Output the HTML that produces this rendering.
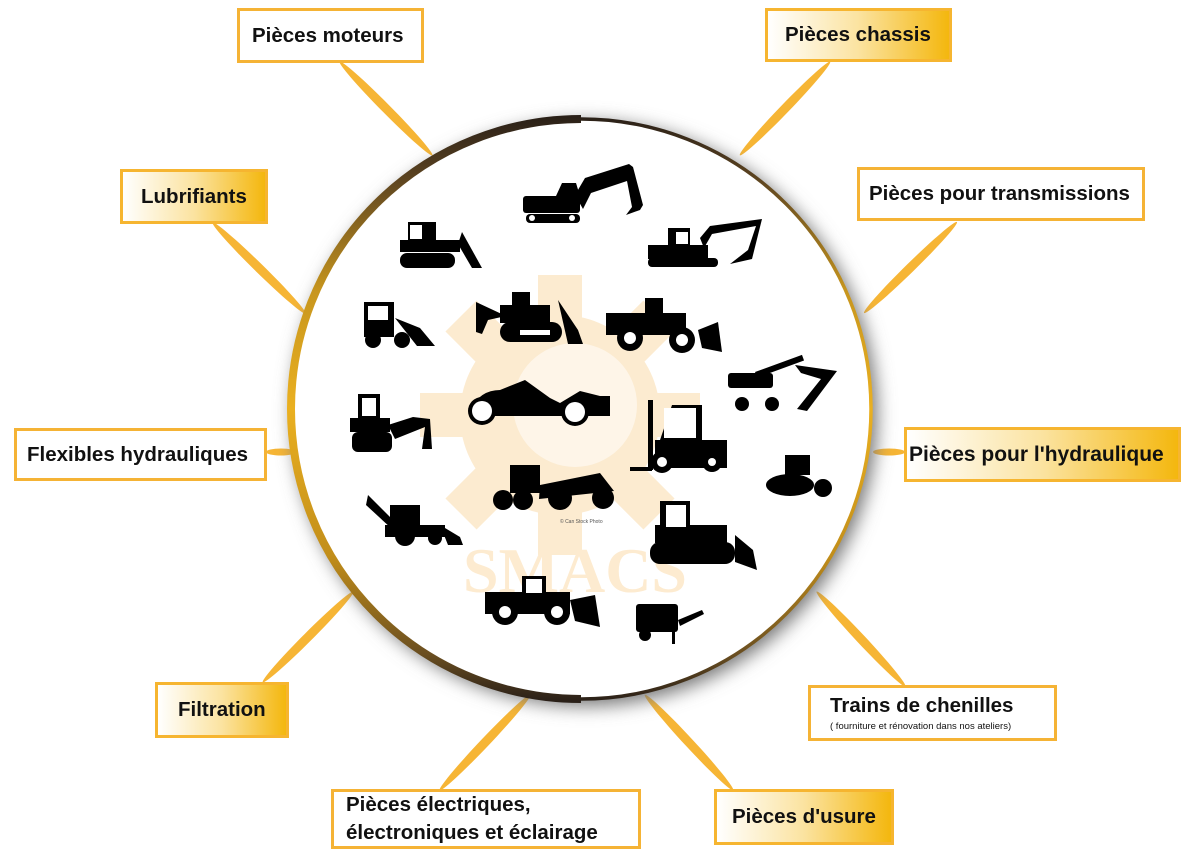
<!DOCTYPE html>
<html><head><meta charset="utf-8"><style>
html,body{margin:0;padding:0;background:#fff;width:1200px;height:858px;overflow:hidden}
.b{position:absolute;box-sizing:border-box;border:3px solid #f5b335;font-family:"Liberation Sans",sans-serif;font-weight:bold;color:#111;font-size:20.5px;display:flex;align-items:center;white-space:nowrap;background:#fff}
.g{background:linear-gradient(90deg,#fff 0%,#fbe3a0 50%,#f4b70e 100%);border-color:#f6b530}
</style></head><body>
<svg width="1200" height="858" style="position:absolute;left:0;top:0">
<defs>
<linearGradient id="rg2" gradientUnits="userSpaceOnUse" x1="0" y1="117" x2="0" y2="701">
<stop offset="0" stop-color="#2a2018"/><stop offset="0.1" stop-color="#5a4220"/><stop offset="0.3" stop-color="#c8961e"/><stop offset="0.5" stop-color="#eab020"/><stop offset="0.75" stop-color="#c28e1a"/><stop offset="0.92" stop-color="#6a4e20"/><stop offset="1" stop-color="#2a2018"/></linearGradient>
<filter id="sh" x="-20%" y="-20%" width="140%" height="140%"><feGaussianBlur stdDeviation="9"/></filter>
</defs>
<g fill="#f6b535">
<ellipse cx="386" cy="108.5" rx="66" ry="4.5" transform="rotate(45.3 386 108.5)"/>
<ellipse cx="785" cy="108.5" rx="65" ry="4.5" transform="rotate(134 785 108.5)"/>
<ellipse cx="259" cy="268" rx="65" ry="4.5" transform="rotate(44.4 259 268)"/>
<ellipse cx="910.5" cy="267.5" rx="65" ry="4.5" transform="rotate(135.6 910.5 267.5)"/>
<ellipse cx="281" cy="452" rx="15" ry="3.5"/>
<ellipse cx="889" cy="452" rx="16" ry="3.5"/>
<ellipse cx="308" cy="637" rx="64" ry="4.5" transform="rotate(-45 308 637)"/>
<ellipse cx="861" cy="639" rx="65" ry="4.5" transform="rotate(46.9 861 639)"/>
<ellipse cx="485" cy="742.5" rx="66" ry="4.5" transform="rotate(-46.5 485 742.5)"/>
<ellipse cx="689" cy="742.5" rx="65" ry="4.5" transform="rotate(47.2 689 742.5)"/>
</g>
<circle cx="585" cy="414" r="292" fill="#777" filter="url(#sh)"/>
<circle cx="581" cy="409" r="290" fill="#fff"/>
<path d="M581 119 A290 290 0 0 0 581 699" fill="none" stroke="url(#rg2)" stroke-width="8"/>
<path d="M581 119 A290 290 0 0 1 581 699" fill="none" stroke="url(#rg2)" stroke-width="3.5"/>
<!-- gear -->
<g fill="#fcebd0">
<circle cx="560" cy="415" r="100"/>
<g transform="translate(560 415)">
<rect x="-22" y="-140" width="44" height="280"/><rect x="-22" y="-140" width="44" height="280" transform="rotate(45)"/>
<rect x="-22" y="-140" width="44" height="280" transform="rotate(90)"/><rect x="-22" y="-140" width="44" height="280" transform="rotate(135)"/>
</g>
</g>
<circle cx="575" cy="405" r="62" fill="#fff" opacity="0.5"/>
<text x="575" y="592" text-anchor="middle" font-family="Liberation Serif,serif" font-weight="bold" font-size="64" fill="#fdebd0">SMACS</text>
<g fill="#000">
<rect x="523" y="196" width="57" height="17" rx="3"/><path d="M556 196 l6-13 h14 l4 13z"/><rect x="526" y="214" width="54" height="9" rx="4"/>
<path d="M575 195 l10-17 44-14 4 3 10 38-3 5-14 5 6-8-5-26-36 12-8 16z"/>
<rect x="408" y="222" width="28" height="22"/><rect x="400" y="240" width="60" height="12"/><rect x="400" y="253" width="55" height="15" rx="7"/><path d="M462 232 l20 36 h-10 l-14-24z"/>
<rect x="648" y="245" width="60" height="14"/><rect x="668" y="228" width="22" height="17"/><rect x="648" y="258" width="70" height="9" rx="4"/><path d="M700 238 l10-12 52-7 -10 40 -22 5 18-14 8-24 -44 8-8 14z"/>
<rect x="364" y="302" width="30" height="35"/><circle cx="373" cy="340" r="8"/><circle cx="402" cy="340" r="8"/><path d="M395 318 l25 10 15 18 h-18z"/>
<rect x="512" y="292" width="18" height="15"/><rect x="500" y="305" width="50" height="18"/><rect x="500" y="322" width="62" height="20" rx="10"/><path d="M558 300 l20 30 5 14 h-15z M476 302 l30 14 -18 4 -6 14 -6-2z"/>
<rect x="606" y="313" width="80" height="22"/><rect x="645" y="298" width="18" height="18"/><circle cx="630" cy="338" r="13"/><circle cx="682" cy="340" r="13"/><path d="M698 330 l20-8 4 30 -20-4z"/>
<rect x="728" y="373" width="45" height="15" rx="3"/><rect x="755" y="372" width="50" height="6" transform="rotate(-20 755 372)"/><path d="M795 365 l42 6 -30 40 -10-2 24-30 -20-6z"/><circle cx="742" cy="404" r="7"/><circle cx="772" cy="404" r="7"/>
<rect x="358" y="394" width="22" height="30"/><rect x="350" y="418" width="40" height="14"/><rect x="352" y="432" width="40" height="20" rx="6"/><path d="M388 425 l25-8 17 2 2 30 -10 0 3-22 -30 12z"/>
<path d="M470 410 q10-20 30-20 l25-10 25 18 10 5 20-12 20 5 10 0 v20 h-140z"/>
<circle cx="482" cy="411" r="14"/><circle cx="575" cy="412" r="14"/>
<rect x="648" y="400" width="5" height="70"/><rect x="630" y="467" width="22" height="4"/><rect x="655" y="440" width="72" height="28"/><path d="M660 440 l12-35 h30 v35z"/><circle cx="662" cy="462" r="11"/><circle cx="712" cy="462" r="10"/>
<rect x="785" y="455" width="25" height="20"/><ellipse cx="790" cy="485" rx="24" ry="11"/><circle cx="823" cy="488" r="9"/>
<rect x="510" y="465" width="30" height="28"/><path d="M540 485 l60-12 14 18 -75 8z"/><circle cx="503" cy="500" r="10"/><circle cx="523" cy="500" r="10"/><circle cx="560" cy="498" r="12"/><circle cx="603" cy="498" r="11"/>
<path d="M368 495 l30 30 -6 4 -26-24z"/><rect x="390" y="505" width="30" height="24"/><rect x="385" y="525" width="60" height="12"/><circle cx="405" cy="536" r="10"/><circle cx="435" cy="538" r="7"/><path d="M440 525 l20 12 3 8 h-15z"/>
<rect x="660" y="501" width="30" height="30"/><rect x="655" y="525" width="72" height="18"/><rect x="650" y="542" width="85" height="22" rx="10"/><path d="M735 535 l18 15 4 20 -22-8z"/>
<rect x="485" y="592" width="85" height="22"/><rect x="522" y="576" width="24" height="18"/><circle cx="505" cy="612" r="13"/><circle cx="557" cy="612" r="13"/><path d="M570 600 l25 -5 5 32 -25 -6z"/>
<rect x="636" y="604" width="42" height="28" rx="3"/><path d="M678 620 l24-10 2 4 -24 12z"/><circle cx="645" cy="635" r="6"/><rect x="672" y="628" width="3" height="16"/>
</g>
<g fill="#fff">
<rect x="534" y="181" width="18" height="3"/><circle cx="532" cy="218" r="3"/><circle cx="572" cy="218" r="3"/>
<rect x="676" y="232" width="12" height="12"/><rect x="410" y="225" width="12" height="14"/><rect x="368" y="306" width="20" height="14"/>
<rect x="362" y="398" width="14" height="18"/><rect x="664" y="408" width="32" height="30"/><circle cx="662" cy="462" r="5"/><circle cx="712" cy="462" r="4"/>
<circle cx="482" cy="411" r="10"/><circle cx="575" cy="412" r="10"/><rect x="666" y="505" width="20" height="22"/>
<circle cx="630" cy="338" r="6"/><circle cx="682" cy="340" r="6"/><circle cx="505" cy="612" r="6"/><circle cx="557" cy="612" r="6"/>
<rect x="526" y="579" width="16" height="14"/><rect x="520" y="330" width="30" height="5"/>
</g>
<text x="560" y="523" font-family="Liberation Sans,sans-serif" font-size="5" fill="#555">© Can Stock Photo</text>
</svg>
<div class="b" style="left:237px;top:8px;width:187px;height:55px;padding-left:12px">Pièces moteurs</div>
<div class="b g" style="left:765px;top:8px;width:187px;height:54px;padding-left:17px">Pièces chassis</div>
<div class="b g" style="left:120px;top:169px;width:148px;height:55px;padding-left:18px">Lubrifiants</div>
<div class="b" style="left:857px;top:167px;width:288px;height:54px;padding-left:9px">Pièces pour transmissions</div>
<div class="b" style="left:14px;top:428px;width:253px;height:53px;padding-left:10px">Flexibles hydrauliques</div>
<div class="b g" style="left:904px;top:427px;width:277px;height:55px;padding-left:2px;font-size:21px">Pièces pour l'hydraulique</div>
<div class="b g" style="left:155px;top:682px;width:134px;height:56px;padding-left:20px">Filtration</div>
<div class="b" style="left:808px;top:685px;width:249px;height:56px;padding-left:19px;flex-direction:column;align-items:flex-start;justify-content:center"><span>Trains de chenilles</span><span style="font-size:9.5px;font-weight:normal;margin-top:3px">( fourniture et rénovation dans nos ateliers)</span></div>
<div class="b" style="left:331px;top:789px;width:310px;height:60px;padding-left:12px;line-height:28px;align-items:center"><span>Pièces électriques,<br>électroniques et éclairage</span></div>
<div class="b g" style="left:714px;top:789px;width:180px;height:56px;padding-left:15px">Pièces d'usure</div>
</body></html>
